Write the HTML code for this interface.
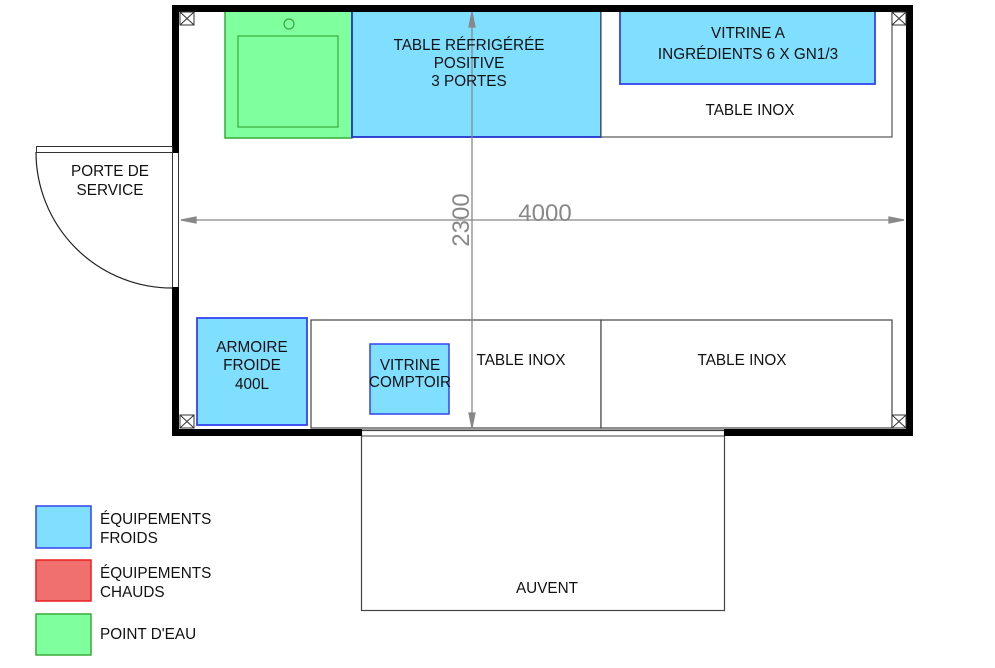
<!DOCTYPE html>
<html><head><meta charset="utf-8"><style>
html,body{margin:0;padding:0;background:#fff;}
svg{display:block;}
text{font-family:"Liberation Sans",sans-serif;fill:#111;}
</style></head><body>
<svg width="995" height="668" viewBox="0 0 995 668" xmlns="http://www.w3.org/2000/svg">
<rect x="225" y="11" width="127" height="127" fill="#80ff9e" stroke="#3aaa3a" stroke-width="1.5"/>
<rect x="238" y="36" width="100" height="91" fill="none" stroke="#3aaa3a" stroke-width="1.2"/>
<circle cx="289" cy="24" r="5" fill="none" stroke="#3aaa3a" stroke-width="1.2"/>
<rect x="352" y="11" width="249" height="126" fill="#80dfff" stroke="#2233cc" stroke-width="1.8"/>
<rect x="601" y="11" width="291" height="126" fill="#fff" stroke="#555" stroke-width="1.2"/>
<rect x="620" y="11" width="255" height="73" fill="#80dfff" stroke="#3344ee" stroke-width="1.8"/>
<rect x="311" y="320" width="290" height="108" fill="#fff" stroke="#444" stroke-width="1.2"/>
<rect x="601" y="320" width="291" height="108" fill="#fff" stroke="#444" stroke-width="1.2"/>
<rect x="197" y="318" width="110" height="107" fill="#80dfff" stroke="#3344ee" stroke-width="1.8"/>
<rect x="370" y="344" width="79" height="70" fill="#80dfff" stroke="#3344ee" stroke-width="1.5"/>
<rect x="361.5" y="430.5" width="363" height="180" fill="#fff" stroke="#444" stroke-width="1.2"/>
<rect x="172" y="5" width="741" height="7" fill="#000"/>
<rect x="172" y="5" width="7" height="148" fill="#000"/>
<rect x="172" y="287" width="7" height="149" fill="#000"/>
<rect x="906" y="5" width="7" height="431" fill="#000"/>
<rect x="172" y="429" width="190" height="7" fill="#000"/>
<rect x="724" y="429" width="189" height="7" fill="#000"/>
<line x1="362" y1="430" x2="724" y2="430" stroke="#444" stroke-width="1"/>
<line x1="362" y1="436" x2="724" y2="436" stroke="#444" stroke-width="1"/>
<line x1="172.5" y1="153" x2="172.5" y2="287" stroke="#333" stroke-width="1"/>
<line x1="178.5" y1="153" x2="178.5" y2="287" stroke="#333" stroke-width="1"/>
<g stroke="#333" stroke-width="1" fill="#fff">
<rect x="180" y="12" width="14" height="13"/><path d="M180 12L194 25M194 12L180 25"/>
<rect x="892" y="12" width="14" height="13"/><path d="M892 12L906 25M906 12L892 25"/>
<rect x="180" y="415" width="14" height="13"/><path d="M180 415L194 428M194 415L180 428"/>
<rect x="892" y="415" width="14" height="13"/><path d="M892 415L906 428M906 415L892 428"/>
</g>
<rect x="36.5" y="146.5" width="136" height="6" fill="#fff" stroke="#333" stroke-width="1"/>
<path d="M36 152 A136 136 0 0 0 172 288" fill="none" stroke="#222" stroke-width="1.2"/>
<g stroke="#888" stroke-width="1.3" fill="#888">
<line x1="181" y1="220" x2="904" y2="220"/>
<path d="M181 220 L196 217 L196 223Z"/><path d="M904 220 L889 217 L889 223Z"/>
<line x1="472" y1="12" x2="472" y2="428"/>
<path d="M472 12 L469 27 L475 27Z"/><path d="M472 428 L469 413 L475 413Z"/>
</g>
<text x="545" y="221" font-size="24" style="fill:#888" text-anchor="middle">4000</text>
<text transform="translate(472,220) rotate(-90)" x="0" y="-3" font-size="24" style="fill:#888" text-anchor="middle">2300</text>
<g font-size="15.3" text-anchor="middle">
<text x="469" y="50">TABLE RÉFRIGÉRÉE</text>
<text x="469" y="68">POSITIVE</text>
<text x="469" y="86">3 PORTES</text>
<text x="748" y="38">VITRINE A</text>
<text x="748" y="59">INGRÉDIENTS 6 X GN1/3</text>
<text x="750" y="115">TABLE INOX</text>
<text x="110" y="176">PORTE DE</text>
<text x="110" y="195">SERVICE</text>
<text x="252" y="352">ARMOIRE</text>
<text x="252" y="370">FROIDE</text>
<text x="252" y="389">400L</text>
<text x="410" y="370">VITRINE</text>
<text x="410" y="387">COMPTOIR</text>
<text x="521" y="365">TABLE INOX</text>
<text x="742" y="365">TABLE INOX</text>
<text x="547" y="593">AUVENT</text>
</g>
<rect x="36" y="506" width="55" height="42" fill="#80dfff" stroke="#3344ee" stroke-width="1.5"/>
<rect x="36" y="560" width="55" height="41" fill="#f07070" stroke="#e82020" stroke-width="1.5"/>
<rect x="36" y="614" width="55" height="41" fill="#80ff9e" stroke="#3aaa3a" stroke-width="1.5"/>
<g font-size="15.3">
<text x="100" y="524">ÉQUIPEMENTS</text>
<text x="100" y="543">FROIDS</text>
<text x="100" y="578">ÉQUIPEMENTS</text>
<text x="100" y="597">CHAUDS</text>
<text x="100" y="639">POINT D'EAU</text>
</g>
</svg>
</body></html>
